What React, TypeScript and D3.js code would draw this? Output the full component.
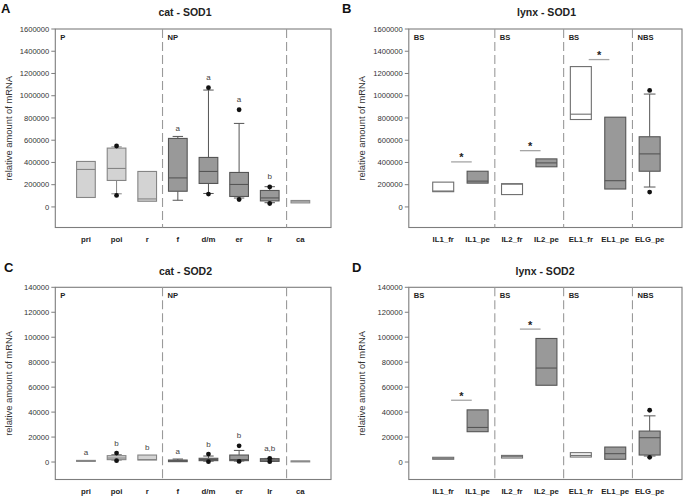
import React from "react";
import * as d3 from "d3";

// ---------- categories & labels ----------
const catCategories = ["pri", "poi", "r", "f", "d/m", "er", "lr", "ca"];
const lynxCategories = ["IL1_fr", "IL1_pe", "IL2_fr", "IL2_pe", "EL1_fr", "EL1_pe", "ELG_pe"];
const catSections = ["P", "NP", ""];
const lynxSections = ["BS", "BS", "BS", "NBS"];
const catSeparators = [3.5, 7.55];
const lynxSeparators = [2.5, 4.5, 6.5];
const catShade = ["light", "light", "light", "dark", "dark", "dark", "dark", "pale"];
const lynxShade = ["white", "dark", "white", "dark", "white", "dark", "dark"];

const sod1Ticks = [0, 200000, 400000, 600000, 800000, 1000000, 1200000, 1400000, 1600000];
const sod2Ticks = [0, 20000, 40000, 60000, 80000, 100000, 120000, 140000];

// ---------- cat SOD1 ----------
const catSod1Q1 = [85000, 238000, 51000, 141000, 211000, 94000, 54000, 36000];
const catSod1Median = [337000, 346000, 72000, 261000, 319000, 202000, 81000, 46000];
const catSod1Q3 = [409000, 529000, 319000, 616000, 445000, 310000, 148000, 58000];
const catSod1WhiskerLow = [null, 118000, null, 60000, 121000, 80000, 38000, null];
const catSod1WhiskerHigh = [null, 540000, null, 634000, 1051000, 751000, 182000, null];
const catSod1OutlierLow = [null, 103000, null, null, 116000, 67000, 31000, null];
const catSod1OutlierHigh = [null, 548000, null, null, 1072000, 874000, 180000, null];
const catSod1Letters = ["", "", "", "a", "a", "a", "b", ""];

// ---------- cat SOD2 ----------
const catSod2Q1 = [800, 1900, 1600, 300, 1100, 1100, 500, 400];
const catSod2Median = [1000, 3200, 2000, 1000, 2000, 2000, 1600, 600];
const catSod2Q3 = [1300, 5100, 5600, 1600, 3000, 5600, 2700, 900];
const catSod2WhiskerLow = [null, 1500, null, null, 700, 800, 400, null];
const catSod2WhiskerHigh = [null, 6000, null, 2400, 4800, 9300, 2900, null];
const catSod2OutlierLow = [null, 1100, null, null, 300, 500, 300, null];
const catSod2OutlierHigh = [null, 7200, null, null, 6400, 13000, 3000, null];
const catSod2Letters = ["a", "b", "b", "a", "b", "b", "a,b", ""];

// ---------- lynx SOD1 ----------
const lynxSod1Q1 = [137000, 214000, 111000, 361000, 786000, 161000, 321000];
const lynxSod1Median = [143000, 232000, 205000, 396000, 834000, 236000, 477000];
const lynxSod1Q3 = [223000, 321000, 209000, 432000, 1262000, 807000, 631000];
const lynxSod1WhiskerLow = [null, null, null, null, null, null, 179000];
const lynxSod1WhiskerHigh = [null, null, null, null, null, null, 1015000];
const lynxSod1OutlierLow = [null, null, null, null, null, null, 134000];
const lynxSod1OutlierHigh = [null, null, null, null, null, null, 1048000];
const lynxSod1SigPairs = [0, 2, 4];
const lynxSod1SigValues = [405000, 506000, 1325000];

// ---------- lynx SOD2 ----------
const lynxSod2Q1 = [2200, 24300, 3200, 61500, 4000, 2200, 5600];
const lynxSod2Median = [3000, 27700, 4300, 75300, 5300, 6700, 19500];
const lynxSod2Q3 = [3800, 41800, 5300, 99000, 7500, 12000, 24800];
const lynxSod2WhiskerLow = [null, null, null, null, null, null, 4800];
const lynxSod2WhiskerHigh = [null, null, null, null, null, null, 37000];
const lynxSod2OutlierLow = [null, null, null, null, null, null, 3800];
const lynxSod2OutlierHigh = [null, null, null, null, null, null, 41500];
const lynxSod2SigPairs = [0, 2];
const lynxSod2SigValues = [49500, 106500];

const FONT = "'Liberation Sans', Arial, Helvetica, sans-serif";

const fills: Record<string, string> = {
  light: "#d3d3d3",
  dark: "#999999",
  white: "#ffffff",
  pale: "#eeeeee",
};
const strokes: Record<string, string> = {
  light: "#858585",
  dark: "#555555",
  white: "#6e6e6e",
  pale: "#8a8a8a",
};

type N = number | null;

type PanelProps = {
  letter: string;
  letterX: number;
  letterY: number;
  title: string;
  titleX: number;
  titleY: number;
  x0: number;
  x1: number;
  y0: number;
  y1: number;
  xMax: number;
  yMin: number;
  yMax: number;
  ticks: number[];
  categories: string[];
  shade: string[];
  q1: number[];
  med: number[];
  q3: number[];
  wLo: N[];
  wHi: N[];
  oLo: N[];
  oHi: N[];
  letters?: string[];
  separators: number[];
  sections: string[];
  sigPairs?: number[];
  sigValues?: number[];
  yLabelX: number;
};

function Panel(p: PanelProps) {
  const x = d3.scaleLinear().domain([0, p.xMax]).range([p.x0, p.x1]);
  const y = d3.scaleLinear().domain([p.yMin, p.yMax]).range([p.y1, p.y0]);
  const halfW = x(0.305) - x(0);
  const capW = x(0.17) - x(0);
  const starts = [0, ...p.separators];
  const yMid = (p.y0 + p.y1) / 2;

  return (
    <g>
      <text x={p.letterX} y={p.letterY} fontSize={13} fontWeight="bold" fontFamily={FONT} fill="#111">
        {p.letter}
      </text>
      <text x={p.titleX} y={p.titleY} fontSize={10.5} fontWeight="bold" fontFamily={FONT} textAnchor="middle" fill="#222">
        {p.title}
      </text>
      <text
        transform={`translate(${p.yLabelX},${yMid}) rotate(-90)`}
        fontSize={9.4}
        fontFamily={FONT}
        textAnchor="middle"
        fill="#333"
      >
        relative amount of mRNA
      </text>
      {/* frame */}
      <rect x={p.x0} y={p.y0} width={p.x1 - p.x0} height={p.y1 - p.y0} fill="white" stroke="#7d7d7d" strokeWidth={1.1} />
      {/* y ticks */}
      {p.ticks.map((t) => (
        <g key={t}>
          <line x1={p.x0 - 4} x2={p.x0} y1={y(t)} y2={y(t)} stroke="#7d7d7d" strokeWidth={1} />
          <text x={p.x0 - 6} y={y(t) + 2.7} fontSize={7.6} fontFamily={FONT} textAnchor="end" fill="#333">
            {t}
          </text>
        </g>
      ))}
      {/* separators */}
      {p.separators.map((s) => (
        <line key={s} x1={x(s)} x2={x(s)} y1={p.y0} y2={p.y1} stroke="#9a9a9a" strokeWidth={1.1} strokeDasharray="9,4" />
      ))}
      {/* section labels */}
      {p.sections.map((s, i) =>
        s ? (
          <text key={i} x={x(starts[i]) + 5} y={p.y0 + 11} fontSize={7.6} fontWeight="bold" fontFamily={FONT} fill="#222">
            {s}
          </text>
        ) : null
      )}
      {/* boxes */}
      {p.categories.map((c, i) => {
        const cx = x(i + 1);
        const sh = p.shade[i];
        const st = strokes[sh];
        const tops: number[] = [p.q3[i]];
        if (p.wHi[i] != null) tops.push(p.wHi[i] as number);
        if (p.oHi[i] != null) tops.push(p.oHi[i] as number);
        const topV = Math.max(...tops);
        const topPx = y(topV) - (p.oHi[i] != null ? 2.5 : 0);
        return (
          <g key={c}>
            {p.wHi[i] != null && (
              <g stroke={st} strokeWidth={1}>
                <line x1={cx} x2={cx} y1={y(p.q3[i])} y2={y(p.wHi[i] as number)} />
                <line x1={cx - capW} x2={cx + capW} y1={y(p.wHi[i] as number)} y2={y(p.wHi[i] as number)} />
              </g>
            )}
            {p.wLo[i] != null && (
              <g stroke={st} strokeWidth={1}>
                <line x1={cx} x2={cx} y1={y(p.q1[i])} y2={y(p.wLo[i] as number)} />
                <line x1={cx - capW} x2={cx + capW} y1={y(p.wLo[i] as number)} y2={y(p.wLo[i] as number)} />
              </g>
            )}
            <rect
              x={cx - halfW}
              y={y(p.q3[i])}
              width={halfW * 2}
              height={Math.max(1, y(p.q1[i]) - y(p.q3[i]))}
              fill={fills[sh]}
              stroke={st}
              strokeWidth={1.1}
            />
            <line x1={cx - halfW} x2={cx + halfW} y1={y(p.med[i])} y2={y(p.med[i])} stroke={st} strokeWidth={1.1} />
            {p.oHi[i] != null && <circle cx={cx} cy={y(p.oHi[i] as number)} r={2.4} fill="#111" />}
            {p.oLo[i] != null && <circle cx={cx} cy={y(p.oLo[i] as number)} r={2.4} fill="#111" />}
            {p.letters && p.letters[i] ? (
              <text x={cx} y={topPx - 5} fontSize={8} fontFamily={FONT} textAnchor="middle" fill="#444">
                {p.letters[i]}
              </text>
            ) : null}
            <text x={cx} y={p.y1 + 14} fontSize={7.8} fontWeight="bold" fontFamily={FONT} textAnchor="middle" fill="#222">
              {c}
            </text>
          </g>
        );
      })}
      {/* significance bars */}
      {(p.sigPairs || []).map((i, k) => {
        const xm = (x(i + 1) + x(i + 2)) / 2 + 1;
        const hw = x(0.3) - x(0);
        const yy = y((p.sigValues as number[])[k]);
        return (
          <g key={k}>
            <line x1={xm - hw} x2={xm + hw} y1={yy} y2={yy} stroke="#a5a5a5" strokeWidth={1.3} />
            <text x={xm} y={yy - 0.5} fontSize={11} fontWeight="bold" fontFamily={FONT} textAnchor="middle" fill="#222">
              *
            </text>
          </g>
        );
      })}
    </g>
  );
}

export default function App() {
  const catX = { x0: 55.3, x1: 331, xMax: 9 };
  const lynxX = { x0: 408.8, x1: 682, xMax: 7.94 };
  const top = { y0: 29, y1: 227.5, yMin: -185000, yMax: 1600000 };
  const bottom = { y0: 287.3, y1: 479.5, yMin: -14000, yMax: 140000 };
  return (
    <svg
      width={685}
      height={501}
      style={{ position: "absolute", left: 0, top: 0, background: "white" }}
      viewBox="0 0 685 501"
    >
      <rect x={0} y={0} width={685} height={501} fill="white" />
      <Panel
        letter="A" letterX={1} letterY={12.5} title="cat - SOD1" titleX={185} titleY={15.5}
        {...catX} {...top} ticks={sod1Ticks} categories={catCategories} shade={catShade}
        q1={catSod1Q1} med={catSod1Median} q3={catSod1Q3}
        wLo={catSod1WhiskerLow} wHi={catSod1WhiskerHigh} oLo={catSod1OutlierLow} oHi={catSod1OutlierHigh}
        letters={catSod1Letters} separators={catSeparators} sections={catSections} yLabelX={11.5}
      />
      <Panel
        letter="B" letterX={342} letterY={12.5} title="lynx - SOD1" titleX={546.5} titleY={15.5}
        {...lynxX} {...top} ticks={sod1Ticks} categories={lynxCategories} shade={lynxShade}
        q1={lynxSod1Q1} med={lynxSod1Median} q3={lynxSod1Q3}
        wLo={lynxSod1WhiskerLow} wHi={lynxSod1WhiskerHigh} oLo={lynxSod1OutlierLow} oHi={lynxSod1OutlierHigh}
        separators={lynxSeparators} sections={lynxSections}
        sigPairs={lynxSod1SigPairs} sigValues={lynxSod1SigValues} yLabelX={365}
      />
      <Panel
        letter="C" letterX={4} letterY={272} title="cat - SOD2" titleX={185.5} titleY={274.5}
        {...catX} {...bottom} ticks={sod2Ticks} categories={catCategories} shade={catShade}
        q1={catSod2Q1} med={catSod2Median} q3={catSod2Q3}
        wLo={catSod2WhiskerLow} wHi={catSod2WhiskerHigh} oLo={catSod2OutlierLow} oHi={catSod2OutlierHigh}
        letters={catSod2Letters} separators={catSeparators} sections={catSections} yLabelX={11.5}
      />
      <Panel
        letter="D" letterX={352} letterY={272} title="lynx - SOD2" titleX={545} titleY={274.5}
        {...lynxX} {...bottom} ticks={sod2Ticks} categories={lynxCategories} shade={lynxShade}
        q1={lynxSod2Q1} med={lynxSod2Median} q3={lynxSod2Q3}
        wLo={lynxSod2WhiskerLow} wHi={lynxSod2WhiskerHigh} oLo={lynxSod2OutlierLow} oHi={lynxSod2OutlierHigh}
        separators={lynxSeparators} sections={lynxSections}
        sigPairs={lynxSod2SigPairs} sigValues={lynxSod2SigValues} yLabelX={365}
      />
    </svg>
  );
}
